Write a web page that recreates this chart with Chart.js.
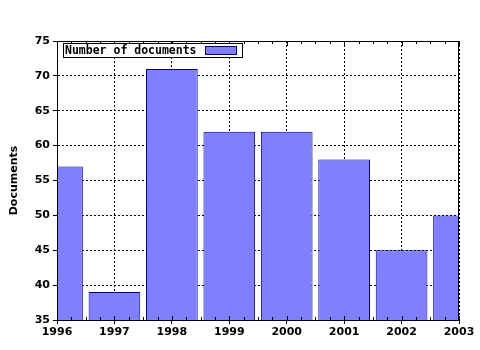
<!DOCTYPE html>
<html>
<head>
<meta charset="utf-8">
<script src="https://cdn.jsdelivr.net/npm/chart.js@4"></script>
<style>
  html, body { margin: 0; padding: 0; background: #fff; }
  #wrap { width: 480px; height: 350px; }
</style>
</head>
<body>
<div id="wrap"><canvas id="myChart" width="480" height="350"></canvas></div>
<script>
// data
const years = [1996, 1997, 1998, 1999, 2000, 2001, 2002, 2003];
const documents = [57, 39, 71, 62, 62, 58, 45, 50];
const yTicks = [35, 40, 45, 50, 55, 60, 65, 70, 75];
const seriesLabel = "Number of documents";

const FONT = "DejaVu Sans";
const ctx = document.getElementById("myChart").getContext("2d");

// frame, minor ticks and boxed legend
const framePlugin = {
  id: "frame",
  afterDraw(chart) {
    const c = chart.ctx;
    const a = chart.chartArea;
    const xs = chart.scales.x;
    c.save();
    c.strokeStyle = "#000";
    c.lineWidth = 1;
    c.setLineDash([]);
    c.strokeRect(a.left + 0.5, a.top + 0.5, a.right - a.left - 1, a.bottom - a.top);
    // minor ticks along top and bottom
    c.beginPath();
    for (let i = 0; i < years.length - 1; i++) {
      for (let k = 1; k < 4; k++) {
        const px = Math.round(xs.getPixelForValue(years[i] + k / 4)) + 0.5;
        c.moveTo(px, a.top); c.lineTo(px, a.top + 3);
        c.moveTo(px, a.bottom); c.lineTo(px, a.bottom - 3);
      }
    }
    years.forEach(y => {
      const px = Math.round(xs.getPixelForValue(y)) + 0.5;
      c.moveTo(px, a.top); c.lineTo(px, a.top + 5);
      c.moveTo(px, a.bottom - 4); c.lineTo(px, a.bottom);
    });
    c.stroke();

    // legend
    const ds = chart.data.datasets[0];
    const lx = a.left + 6, ly = a.top + 2;
    c.fillStyle = "#fff";
    c.fillRect(lx, ly, 179, 14);
    c.strokeRect(lx + 0.5, ly + 0.5, 179, 14);
    c.fillStyle = "#000";
    c.font = "bold 11.5px 'DejaVu Sans Mono'";
    c.textBaseline = "middle";
    c.textAlign = "left";
    c.fillText(ds.label, lx + 2, ly + 8);
    c.fillStyle = ds.backgroundColor;
    c.fillRect(lx + 142, ly + 3, 31, 9);
    c.strokeStyle = ds.borderColor;
    c.strokeRect(lx + 142.5, ly + 3.5, 31, 8);
    c.restore();
  }
};

new Chart(ctx, {
  type: "bar",
  data: {
    datasets: [
      {
        label: seriesLabel,
        data: years.map((y, i) => ({ x: y, y: documents[i] })),
        backgroundColor: "#8080ff",
        borderColor: "#000080",
        borderWidth: 1,
        barPercentage: 0.9,
        categoryPercentage: 1.0,
      },
    ],
  },
  options: {
    responsive: false,
    animation: false,
    layout: { padding: { top: 41, right: 21, left: 0, bottom: 0 } },
    plugins: {
      legend: { display: false },
      tooltip: { enabled: false },
    },
    scales: {
      x: {
        type: "linear",
        min: years[0],
        max: years[years.length - 1],
        offset: false,
        afterBuildTicks: s => { s.ticks = years.map(v => ({ value: v })); },
        afterFit: s => { s.height = 30; },
        ticks: {
          callback: v => String(v),
          color: "#000",
          font: { family: FONT, size: 11, weight: "bold" },
          padding: 2,
          maxRotation: 0,
          autoSkip: false,
        },
        grid: {
          offset: false,
          color: "#000",
          lineWidth: 1,
          drawTicks: true,
          tickLength: 4,
          tickBorderDash: [],
        },
        border: { display: true, color: "#000", width: 1, dash: [2, 2] },
      },
      y: {
        min: yTicks[0],
        max: yTicks[yTicks.length - 1],
        afterBuildTicks: s => { s.ticks = yTicks.map(v => ({ value: v })); },
        afterFit: s => { s.width = 57; },
        ticks: {
          color: "#000",
          font: { family: FONT, size: 11, weight: "bold" },
          padding: 3,
        },
        grid: {
          color: "#000",
          lineWidth: 1,
          drawTicks: true,
          tickLength: 4,
          tickBorderDash: [],
        },
        border: { display: true, color: "#000", width: 1, dash: [2, 2] },
        title: {
          display: true,
          text: "Documents",
          color: "#000",
          font: { family: FONT, size: 11, weight: "bold" },
          padding: { top: 8, bottom: 4 },
        },
      },
    },
  },
  plugins: [framePlugin],
});
</script>
</body>
</html>
